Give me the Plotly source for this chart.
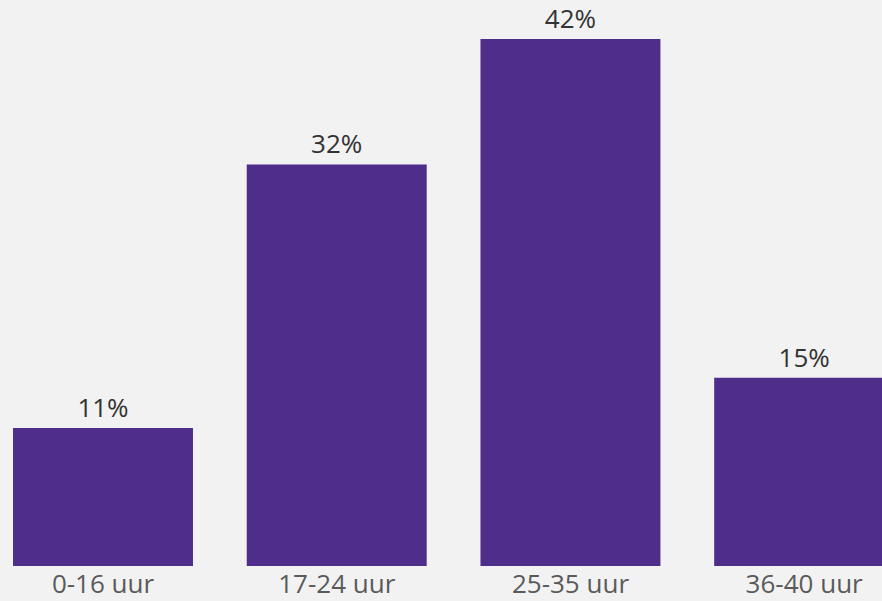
import plotly.graph_objects as go

# Weekly working-hour bands and share of respondents (%)
categories = ["0-16 uur", "17-24 uur", "25-35 uur", "36-40 uur"]
shares = [11, 32, 42, 15]
labels = [f"{v}%" for v in shares]

fig = go.Figure(
    go.Bar(
        x=categories,
        y=shares,
        text=labels,
        textposition="outside",
        cliponaxis=False,
        marker=dict(color="#4f2d8b", line=dict(width=0)),
        textfont=dict(family="Open Sans", size=26, color="#333333"),
        hoverinfo="skip",
    )
)

fig.update_layout(
    width=882,
    height=601,
    margin=dict(l=0, r=0, t=0, b=35),
    paper_bgcolor="#f2f2f2",
    plot_bgcolor="#f2f2f2",
    bargap=0.23,
    showlegend=False,
    font=dict(family="Open Sans"),
    xaxis=dict(
        type="category",
        range=[-0.4407, 3.333],
        showgrid=False,
        zeroline=False,
        showline=False,
        ticks="",
        tickfont=dict(family="Open Sans", size=26, color="#5a5a5a"),
    ),
    yaxis=dict(
        range=[0, 45.1],
        visible=False,
        showgrid=False,
        zeroline=False,
    ),
)

fig.write_html("out.html")
